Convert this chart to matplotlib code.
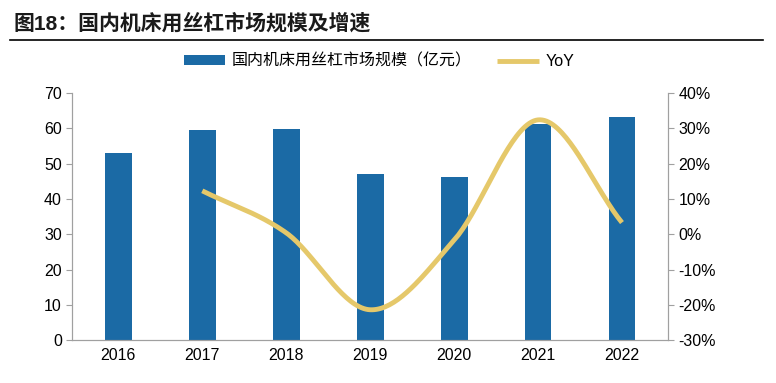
import numpy as np
import matplotlib.pyplot as plt
from matplotlib.ticker import FuncFormatter

plt.rcParams['font.family'] = ['Liberation Sans', 'Noto Sans CJK SC']

years = ["2016", "2017", "2018", "2019", "2020", "2021", "2022"]
market = [53.0, 59.6, 59.8, 47.0, 46.2, 61.2, 63.2]
yoy = [None, 12.3, 0.4, -21.4, -1.7, 32.4, 3.3]

bar_color = "#1B6AA5"
line_color = "#E5C86A"


def smooth(xs, ys, n=40):
    # Catmull-Rom through the points, like Excel's smoothed line
    xs = np.asarray(xs, float)
    ys = np.asarray(ys, float)
    px = np.concatenate([[2 * xs[0] - xs[1]], xs, [2 * xs[-1] - xs[-2]]])
    py = np.concatenate([[2 * ys[0] - ys[1]], ys, [2 * ys[-1] - ys[-2]]])
    ox, oy = [], []
    for i in range(1, len(px) - 2):
        p0, p1, p2, p3 = [np.array([px[j], py[j]]) for j in (i - 1, i, i + 1, i + 2)]
        c1 = p1 + (p2 - p0) / 6
        c2 = p2 - (p3 - p1) / 6
        t = np.linspace(0, 1, n)[:, None]
        pts = ((1 - t) ** 3) * p1 + 3 * ((1 - t) ** 2) * t * c1 + 3 * (1 - t) * t ** 2 * c2 + t ** 3 * p2
        ox.extend(pts[:, 0])
        oy.extend(pts[:, 1])
    return ox, oy


fig = plt.figure(figsize=(7.76, 3.83), dpi=100)
ax = fig.add_axes([0.093, 0.112, 0.768, 0.645])
ax2 = ax.twinx()

x = np.arange(len(years))
bars = ax.bar(x, market, width=0.32, color=bar_color, zorder=2)
ax.set_ylim(0, 70)
ax.set_yticks(range(0, 71, 10))
ax.set_xlim(-0.55, len(years) - 0.45)
ax.set_xticks(x)
ax.set_xticklabels(years)

vx = [i for i, v in enumerate(yoy) if v is not None]
vy = [v for v in yoy if v is not None]
sx, sy = smooth(vx, vy)
ln, = ax2.plot(sx, sy, color=line_color, lw=3.5, solid_capstyle='butt', zorder=3)
ax2.set_ylim(-30, 40)
ax2.set_yticks(range(-30, 41, 10))
ax2.yaxis.set_major_formatter(FuncFormatter(lambda v, p: f"{v:.0f}%"))

for a in (ax, ax2):
    a.spines['top'].set_visible(False)
    for s in ('left', 'right', 'bottom'):
        a.spines[s].set_color('#A0A0A0')
    a.tick_params(colors='#A0A0A0', labelcolor='black', labelsize=11.5, length=4)
ax.tick_params(axis='x', length=0, pad=6)

ax.legend([bars, ln], ["国内机床用丝杠市场规模（亿元）", "YoY"], loc='lower center',
          bbox_to_anchor=(0.515, 1.04), ncol=2, frameon=False, fontsize=11.5,
          handlelength=2.6, handleheight=0.55, columnspacing=1.6, handletextpad=0.4)

fig.text(0.018, 0.922, "图18：国内机床用丝杠市场规模及增速", fontsize=15, fontweight='bold',
         color='#1a1a1a')
fig.add_artist(plt.Line2D([0.013, 0.983], [0.895, 0.895], color='black', lw=1.2))

fig.savefig("out.png", dpi=100)
